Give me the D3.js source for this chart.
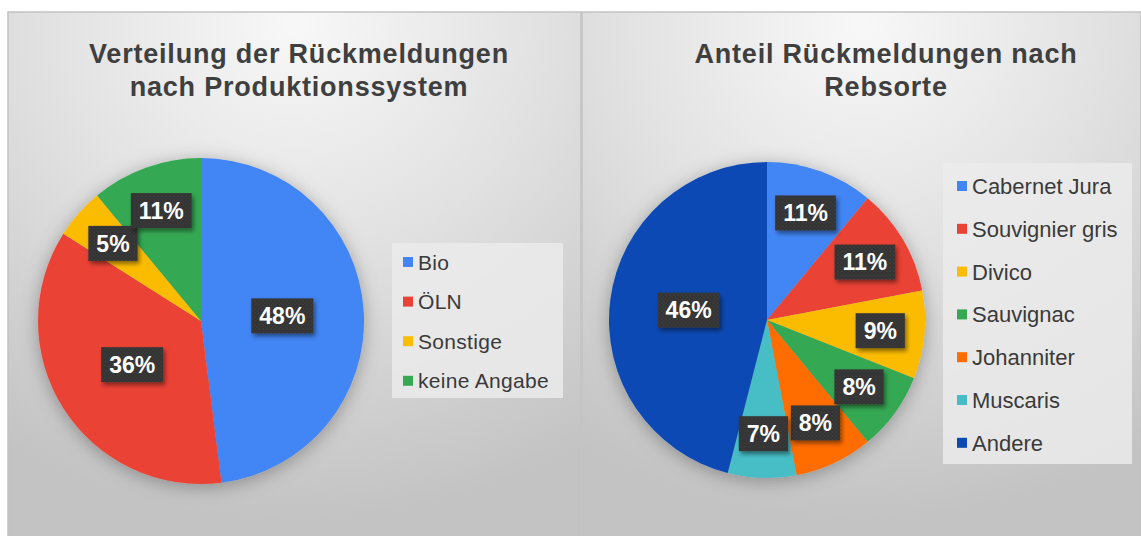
<!DOCTYPE html>
<html>
<head>
<meta charset="utf-8">
<script src="https://cdn.jsdelivr.net/npm/d3@7"></script>
<style>
  body { margin: 0; background: #fff; }
  text { font-family: "Liberation Sans", Arial, sans-serif; }
</style>
</head>
<body>
<div class="charts"></div>
<script>
// Produktionssystem
const prodCategories = ["Bio", "ÖLN", "Sonstige", "keine Angabe"]
const prodValues = [48, 36, 5, 11]
const prodTitle = ["Verteilung der Rückmeldungen", "nach Produktionssystem"]

// Rebsorte
const sortCategories = ["Cabernet Jura", "Souvignier gris", "Divico", "Sauvignac", "Johanniter", "Muscaris", "Andere"]
const sortValues = [11, 11, 9, 8, 8, 7, 46]
const sortTitle = ["Anteil Rückmeldungen nach", "Rebsorte"]

const palette = ["#4285f4", "#ea4335", "#fbbc04", "#34a853", "#ff6d01", "#46bdc6", "#0b4ab4"]

const width = 1141
const height = 536

const svg = d3.select(".charts").append("svg")
    .attr("width", width)
    .attr("height", height)
    .attr("viewBox", [0, 0, width, height])

// Shared defs: background gradient, shadows, dotted label texture
const defs = svg.append("defs")

const grad = defs.append("radialGradient")
    .attr("id", "bg")
    .attr("cx", 0.5).attr("cy", 0.02)
    .attr("r", 0.95)
grad.append("stop").attr("offset", 0).attr("stop-color", "#f8f8f8")
grad.append("stop").attr("offset", 0.45).attr("stop-color", "#e2e2e2")
grad.append("stop").attr("offset", 1).attr("stop-color", "#c3c3c3")

defs.append("filter").attr("id", "pieShadow")
    .attr("x", -0.2).attr("y", -0.2).attr("width", 1.4).attr("height", 1.4)
  .append("feDropShadow")
    .attr("dx", 0).attr("dy", 3).attr("stdDeviation", 9)
    .attr("flood-color", "#000").attr("flood-opacity", 0.3)

defs.append("filter").attr("id", "boxShadow")
    .attr("x", -0.3).attr("y", -0.3).attr("width", 1.6).attr("height", 1.6)
  .append("feDropShadow")
    .attr("dx", 2).attr("dy", 3).attr("stdDeviation", 2)
    .attr("flood-color", "#000").attr("flood-opacity", 0.45)

const pat = defs.append("pattern")
    .attr("id", "dots")
    .attr("width", 4).attr("height", 4)
    .attr("patternUnits", "userSpaceOnUse")
pat.append("rect").attr("width", 4).attr("height", 4).attr("fill", "#333")
pat.append("circle").attr("cx", 1).attr("cy", 1).attr("r", 0.6).attr("fill", "#555")
pat.append("circle").attr("cx", 3).attr("cy", 3).attr("r", 0.6).attr("fill", "#4a4a4a")

function drawPanel(cfg) {
    const g = svg.append("g")

    // Panel background
    g.append("rect")
        .attr("x", cfg.x0).attr("y", 12)
        .attr("width", cfg.x1 - cfg.x0).attr("height", height - 12)
        .attr("fill", "url(#bg)")
        .attr("stroke", "#c2c2c2")
        .attr("stroke-width", 1.5)

    // Title
    g.append("text")
        .attr("x", cfg.titleX)
        .attr("text-anchor", "middle")
        .style("font-size", "27px")
        .style("font-weight", "bold")
        .style("letter-spacing", "0.8px")
        .attr("fill", "#3f3f3f")
        .selectAll("tspan")
        .data(cfg.title)
        .join("tspan")
            .attr("x", cfg.titleX)
            .attr("y", (d, i) => 63 + i * 33)
            .text(d => d)

    // Pie
    const data = cfg.categories.map((c, i) => ({ name: c, value: cfg.values[i] }))
    const pie = d3.pie().sort(null).value(d => d.value)
    const arcs = pie(data)
    const arc = d3.arc().innerRadius(0).outerRadius(cfg.r)
    const color = d3.scaleOrdinal().domain(cfg.categories).range(palette)

    const pieG = g.append("g")
        .attr("transform", `translate(${cfg.cx},${cfg.cy})`)

    pieG.append("g")
        .attr("filter", "url(#pieShadow)")
        .selectAll("path")
        .data(arcs)
        .join("path")
            .attr("d", arc)
            .attr("fill", d => color(d.data.name))

    // Data labels: large slices closer to center
    const labelArc = d => d3.arc()
        .innerRadius(cfg.r * (d.data.value > 25 ? 0.5 : 0.72))
        .outerRadius(cfg.r * (d.data.value > 25 ? 0.5 : 0.72))
        .centroid(d)

    const labels = pieG.append("g")
        .selectAll("g")
        .data(arcs)
        .join("g")
            .attr("transform", d => `translate(${labelArc(d)})`)

    labels.append("rect").attr("class", "box")
    labels.append("text")
        .attr("text-anchor", "middle")
        .attr("dy", "0.36em")
        .style("font-size", "23px")
        .style("font-weight", "bold")
        .attr("fill", "#fff")
        .text(d => d.data.value + "%")

    labels.each(function() {
        const t = d3.select(this).select("text").node().getBBox()
        d3.select(this).select("rect")
            .attr("x", t.x - 8)
            .attr("y", -17.5)
            .attr("width", t.width + 16)
            .attr("height", 35)
            .attr("fill", "url(#dots)")
            .attr("filter", "url(#boxShadow)")
    })

    // Legend
    const leg = g.append("g")
    leg.append("rect")
        .attr("x", cfg.legend.x).attr("y", cfg.legend.y)
        .attr("width", cfg.legend.w).attr("height", cfg.legend.h)
        .attr("fill", "#ebebeb")
        .attr("opacity", 0.85)

    const items = leg.selectAll(".item")
        .data(cfg.categories)
        .join("g")
            .attr("class", "item")
            .attr("transform", (d, i) => `translate(${cfg.legend.mx},${cfg.legend.first + i * cfg.legend.step})`)

    items.append("rect")
        .attr("x", 0).attr("y", -5)
        .attr("width", 10).attr("height", 10)
        .attr("fill", d => color(d))

    items.append("text")
        .attr("x", cfg.legend.tx)
        .attr("dy", "0.36em")
        .style("font-size", cfg.legend.fs + "px")
        .style("letter-spacing", cfg.legend.ls + "px")
        .attr("fill", "#3a3a3a")
        .text(d => d)
}

drawPanel({
    x0: 8, x1: 581,
    title: prodTitle, titleX: 299,
    categories: prodCategories, values: prodValues,
    cx: 201, cy: 321, r: 163,
    legend: { x: 392, y: 243, w: 171, h: 155, mx: 403, tx: 15, first: 262, step: 39.6, fs: 21, ls: 0.3 }
})

drawPanel({
    x0: 582, x1: 1141,
    title: sortTitle, titleX: 886,
    categories: sortCategories, values: sortValues,
    cx: 767, cy: 320, r: 158,
    legend: { x: 943, y: 163, w: 189, h: 301, mx: 957, tx: 15, first: 186, step: 42.8, fs: 22, ls: 0 }
})
</script>
</body>
</html>
